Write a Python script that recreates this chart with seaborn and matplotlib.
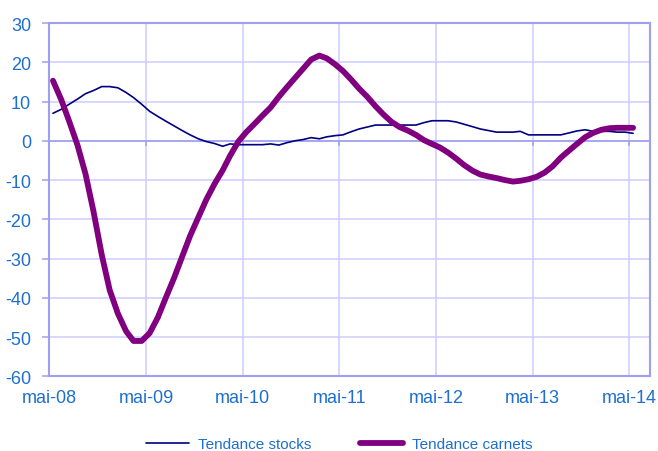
"""Tendance stocks / tendance carnets, mai-08 to mai-14."""

import matplotlib

matplotlib.use("Agg")

import matplotlib.pyplot as plt
import numpy as np
import pandas as pd
import seaborn as sns


# monthly values (mai-08 .. mai-14)
tendance_stocks = [
    7.0, 8.0, 9.3, 10.6, 12.0, 12.8, 13.8, 13.8, 13.5, 12.3, 11.0, 9.3,
    7.5, 6.2, 5.0, 3.8, 2.6, 1.5, 0.5, -0.2, -0.7, -1.4, -0.8, -1.0,
    -1.0, -1.0, -1.0, -0.8, -1.1, -0.5, 0.0, 0.3, 0.8, 0.5, 1.0, 1.3,
    1.5, 2.3, 3.0, 3.5, 4.0, 4.0, 4.0, 4.0, 4.0, 4.0, 4.6, 5.1,
    5.1, 5.1, 4.8, 4.2, 3.6, 3.0, 2.6, 2.2, 2.2, 2.2, 2.4, 1.5,
    1.5, 1.5, 1.5, 1.5, 2.0, 2.5, 2.8, 2.4, 2.4, 2.4, 2.2, 2.2,
    1.9,
]
tendance_carnets = [
    15.3, 10.5, 5.0, -1.0, -8.5, -18.0, -29.0, -38.0, -44.0, -48.5, -51.0, -51.0,
    -49.0, -45.0, -40.0, -35.0, -29.5, -24.2, -19.5, -15.0, -11.0, -7.5, -3.8, -0.2,
    2.2, 4.3, 6.4, 8.5, 11.2, 13.6, 16.0, 18.3, 20.7, 21.7, 21.0, 19.5,
    17.8, 15.6, 13.3, 11.2, 8.8, 6.7, 4.8, 3.5, 2.6, 1.5, 0.2, -0.8,
    -1.7, -3.0, -4.5, -6.2, -7.6, -8.6, -9.1, -9.5, -10.0, -10.4, -10.2, -9.8,
    -9.2, -8.1, -6.5, -4.3, -2.5, -0.8, 0.9, 2.0, 2.8, 3.2, 3.3, 3.3,
    3.3,
]
# mid-month positions, May 2008 .. May 2014
month_dates = pd.date_range("2008-05-01", periods=len(tendance_stocks), freq="MS") + pd.Timedelta(days=14)

tick_dates = pd.to_datetime(["2008-05-01", "2009-05-01", "2010-05-01", "2011-05-01",
                             "2012-05-01", "2013-05-01", "2014-05-01"])
tick_labels = ["mai-08", "mai-09", "mai-10", "mai-11", "mai-12", "mai-13", "mai-14"]
y_ticks = np.arange(-60, 31, 10)

TEXT_BLUE = "#1e6fcf"
FRAME = "#9f9ff0"
GRID = "#ccccff"

sns.set_theme(style="white")
plt.rcParams["font.family"] = ["Liberation Sans", "DejaVu Sans"]
plt.rcParams["axes.unicode_minus"] = False

df = pd.DataFrame({"date": month_dates, "stocks": tendance_stocks, "carnets": tendance_carnets})

fig = plt.figure(figsize=(6.58, 4.52), dpi=100)
ax = fig.add_axes([0.0749, 0.1653, 0.9134, 0.7816])

# grid drawn by hand so it sits under the lines
for d in tick_dates:
    ax.axvline(d, color=GRID, linewidth=1.1, zorder=0)
for v in y_ticks:
    ax.axhline(v, color=GRID, linewidth=1.1, zorder=0)
ax.axhline(0, color=FRAME, linewidth=1.2, zorder=1)
ax.vlines(tick_dates, -1.3, 0, color=FRAME, linewidth=1.1, zorder=1)

sns.lineplot(data=df, x="date", y="stocks", color="#000080", linewidth=1.2,
             label="Tendance stocks", ax=ax, zorder=3)
sns.lineplot(data=df, x="date", y="carnets", color="#800080", linewidth=4.2,
             label="Tendance carnets", ax=ax, zorder=4)

ax.set_xlim(pd.Timestamp("2008-05-01"), pd.Timestamp("2014-07-19"))
ax.set_ylim(-60, 30)
ax.set_xticks(tick_dates)
ax.set_xticklabels(tick_labels)
ax.set_yticks(y_ticks)
ax.set_xlabel("")
ax.set_ylabel("")

ax.tick_params(axis="x", length=0, pad=9, labelsize=13, labelcolor=TEXT_BLUE)
ax.tick_params(axis="y", left=True, length=5, width=1.1, color=FRAME, direction="out",
               pad=8, labelsize=13, labelcolor=TEXT_BLUE)

for spine in ax.spines.values():
    spine.set_color(FRAME)
    spine.set_linewidth(1.5)

ax.legend(loc="center", bbox_to_anchor=(0.516, 0.015), bbox_transform=fig.transFigure,
          ncol=2, frameon=False, fontsize=11, labelcolor=TEXT_BLUE,
          handlelength=2.8, handletextpad=0.6, columnspacing=3.2)

fig.savefig("out.png", dpi=100)
plt.close(fig)
